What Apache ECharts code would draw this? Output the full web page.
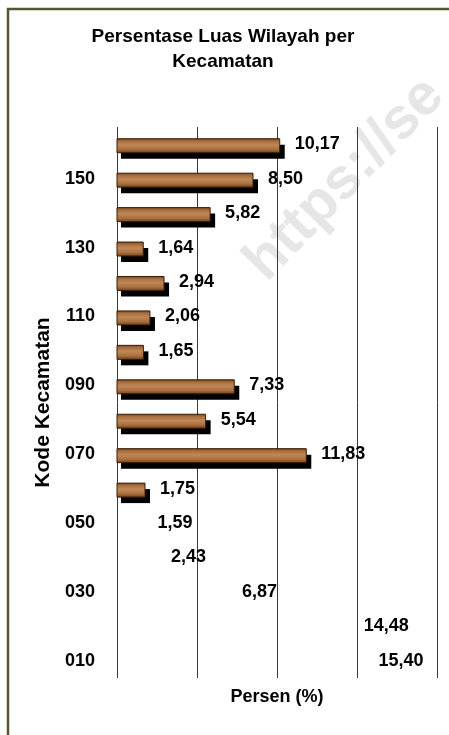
<!DOCTYPE html>
<html>
<head>
<meta charset="utf-8">
<script src="https://cdn.jsdelivr.net/npm/echarts@6/dist/echarts.min.js"></script>
<style>
html,body{margin:0;padding:0;background:#fff;}
#c{width:449px;height:735px;}
</style>
</head>
<body>
<div id="c"></div>
<script>
var categories = ['010','020','030','040','050','060','070','080','090','100','110','120','130','140','150','160'];
var values = [15.40,14.48,6.87,2.43,1.59,1.75,11.83,5.54,7.33,1.65,2.06,2.94,1.64,5.82,8.50,10.17];
var noBarCodes = ['010','020','030','040','050'];
var xTicks = [0,5,10,15,20];

var FONT = '"Liberation Sans", Arial, sans-serif';
var wood = {
  type:'linear', x:0, y:0, x2:0, y2:1,
  colorStops:[
    {offset:0, color:'#6a3c18'},
    {offset:0.18, color:'#a66c3b'},
    {offset:0.45, color:'#c08858'},
    {offset:0.75, color:'#a96e3c'},
    {offset:1, color:'#6a3c18'}
  ]
};

var barData = [];
categories.forEach(function(c,i){
  if (noBarCodes.indexOf(c) < 0) barData.push([values[i], i]);
});

function renderBar(params, api){
  var v = api.value(0), idx = api.value(1);
  var s = api.coord([0, idx]);
  var e = api.coord([v, idx]);
  var h = 14, y = s[1] - 5.5, w = e[0] - s[0];
  return {type:'group', children:[
    {type:'rect', shape:{x:s[0]+4, y:y+6, width:w+1, height:h}, style:{fill:'#000'}},
    {type:'rect', shape:{x:s[0], y:y, width:w, height:h}, style:{fill:wood, stroke:'#3a1e08', lineWidth:1}}
  ]};
}

var chart = echarts.init(document.getElementById('c'));
chart.setOption({
  animation:false,
  backgroundColor:'#fff',
  graphic:[
    {type:'rect', z:-10, shape:{x:8, y:9, width:600, height:900}, style:{fill:'#fff', stroke:'#57572f', lineWidth:2.5}},
    {type:'text', z:-5, x:276, y:292, rotation:0.8,
      style:{text:'https://se', font:'bold 58px ' + FONT, fill:'#e6e6e6', textAlign:'left', textVerticalAlign:'bottom'}}
  ],
  title:{
    text:'Persentase Luas Wilayah per\nKecamatan',
    left:218, top:19, textAlign:'center',
    textStyle:{fontFamily:FONT, fontWeight:'bold', fontSize:19, color:'#000', lineHeight:25}
  },
  grid:{left:117, right:12, top:127, bottom:57, containLabel:false},
  xAxis:{
    type:'value', min:xTicks[0], max:xTicks[xTicks.length-1], interval:5,
    name:'Persen (%)', nameLocation:'middle', nameGap:10,
    nameTextStyle:{fontFamily:FONT, fontWeight:'bold', fontSize:18, color:'#000', verticalAlign:'top'},
    axisLine:{show:false}, axisTick:{show:false}, axisLabel:{show:false},
    splitLine:{show:true, lineStyle:{color:'#3a3a3a', width:1}}
  },
  yAxis:{
    type:'category', data:categories,
    name:'Kode Kecamatan', nameLocation:'middle', nameGap:59, nameRotate:90,
    nameTextStyle:{fontFamily:FONT, fontWeight:'bold', fontSize:21, color:'#000'},
    axisLine:{show:false}, axisTick:{show:false},
    axisLabel:{interval:1, margin:22, fontFamily:FONT, fontWeight:'bold', fontSize:18, color:'#000'},
    splitLine:{show:false}
  },
  series:[{
    type:'custom', data:barData, renderItem:renderBar, encode:{x:0, y:1}, z:3
  },{
    type:'bar', data:values, barWidth:14, z:4,
    itemStyle:{color:'rgba(0,0,0,0)'},
    label:{show:true, position:'right', distance:15,
      fontFamily:FONT, fontWeight:'bold', fontSize:18, color:'#000',
      formatter:function(p){return p.value.toFixed(2).replace('.', ',');}}
  }]
});
</script>
</body>
</html>
